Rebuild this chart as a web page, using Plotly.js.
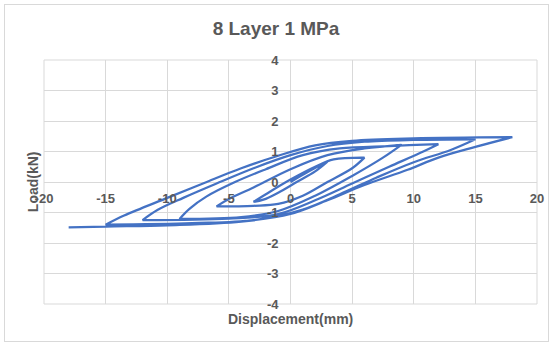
<!DOCTYPE html>
<html>
<head>
<meta charset="utf-8">
<script src="https://cdn.plot.ly/plotly-3.0.1.min.js"></script>
<style>
  html, body { margin: 0; padding: 0; background: #ffffff; }
  #wrap { position: relative; width: 552px; height: 344px; }
  #chart { position: absolute; left: 0; top: 0; width: 552px; height: 344px; }
  #frame { position: absolute; left: 4px; top: 4px; width: 543px; height: 336px;
           border: 1px solid #d9d9d9; pointer-events: none; }
</style>
</head>
<body>
<div id="wrap"><div id="chart"></div><div id="frame"></div></div>
<script>
// Displacement (mm) / Load (kN), one array per half cycle
const up1X = [0, 1.5, 3];
const up1Y = [0, 0.35, 0.67];
const dn1X = [3, 2, 0.5, -1, -2.2, -3];
const dn1Y = [0.67, 0.35, 0, -0.35, -0.58, -0.65];
const up2X = [-3, -2, 0, 2, 3.5, 6];
const up2Y = [-0.65, -0.4, 0.08, 0.5, 0.74, 0.8];
const dn2X = [6, 5, 3, 1, -1, -3, -6];
const dn2Y = [0.8, 0.45, 0, -0.45, -0.72, -0.78, -0.8];
const up3X = [-6, -5, -3, 0, 3, 6, 9];
const up3Y = [-0.8, -0.56, -0.18, 0.42, 0.88, 1.1, 1.22];
const dn3X = [9, 7.5, 5, 2, -1, -4, -9];
const dn3Y = [1.22, 0.8, 0.2, -0.45, -0.95, -1.15, -1.21];
const up4X = [-9, -8.2, -6.8, -4.5, -2, 1, 4, 8, 12];
const up4Y = [-1.21, -0.88, -0.47, 0, 0.42, 0.88, 1.1, 1.18, 1.24];
const dn4X = [12, 10.5, 8, 5, 2, -1, -5, -12];
const dn4Y = [1.24, 0.95, 0.5, -0.05, -0.6, -1.05, -1.2, -1.25];
const up5X = [-12, -10.8, -8.7, -6, -3, 0, 3, 6, 10, 15];
const up5Y = [-1.25, -0.92, -0.52, -0.05, 0.45, 0.88, 1.18, 1.32, 1.38, 1.40];
const dn5X = [15, 13, 10, 7, 4, 1, -3, -8, -15];
const dn5Y = [1.40, 1.05, 0.65, 0.15, -0.4, -0.9, -1.25, -1.35, -1.40];
const up6X = [-15, -13.5, -10, -7, -4, -1, 2, 5, 10, 18];
const up6Y = [-1.40, -1.1, -0.52, -0.03, 0.45, 0.86, 1.2, 1.35, 1.43, 1.47];
const dn6X = [18, 15, 12, 9.5, 6, 3, 0, -4, -10, -15, -18];
const dn6Y = [1.47, 1.15, 0.8, 0.4, -0.1, -0.6, -1.05, -1.3, -1.42, -1.46, -1.49];

const xTicks = [-20, -15, -10, -5, 0, 5, 10, 15, 20];
const yTicks = [-4, -3, -2, -1, 0, 1, 2, 3, 4];

const xs = [].concat(up1X, dn1X, up2X, dn2X, up3X, dn3X, up4X, dn4X, up5X, dn5X, up6X, dn6X);
const ys = [].concat(up1Y, dn1Y, up2Y, dn2Y, up3Y, dn3Y, up4Y, dn4Y, up5Y, dn5Y, up6Y, dn6Y);

const grey = '#d9d9d9';
const txt = '#595959';
const fam = 'Liberation Sans, Arial, sans-serif';

const trace = {
  x: xs, y: ys, type: 'scatter', mode: 'lines',
  line: { color: '#4472C4', width: 2.25, shape: 'spline', smoothing: 1 },
  hoverinfo: 'skip'
};

const layout = {
  width: 552, height: 344,
  margin: { l: 44, r: 15, t: 60, b: 40, pad: 0 },
  paper_bgcolor: 'rgba(0,0,0,0)', plot_bgcolor: '#ffffff',
  showlegend: false,
  title: { text: '8 Layer 1 MPa', x: 0.5, xanchor: 'center', y: 0.918, yanchor: 'middle',
           font: { family: fam, size: 19, color: txt, weight: 'bold' } },
  xaxis: {
    range: [-20, 20], tickvals: xTicks, ticktext: xTicks.map(String),
    showgrid: true, gridcolor: grey, gridwidth: 1,
    zeroline: true, zerolinecolor: grey, zerolinewidth: 1,
    showline: false, ticks: '', anchor: 'free', position: 0.5,
    ticklabelstandoff: 7,
    tickfont: { family: fam, size: 13, color: txt, weight: 'bold' }
  },
  yaxis: {
    range: [-4, 4], tickvals: yTicks, ticktext: yTicks.map(String),
    showgrid: true, gridcolor: grey, gridwidth: 1,
    zeroline: true, zerolinecolor: grey, zerolinewidth: 1,
    showline: false, ticks: '', anchor: 'free', position: 0.5,
    ticklabelstandoff: 12,
    tickfont: { family: fam, size: 13, color: txt, weight: 'bold' }
  },
  shapes: [
    { type: 'rect', xref: 'paper', yref: 'paper', x0: 0, x1: 1, y0: 0, y1: 1,
      line: { color: grey, width: 1 }, layer: 'below' }
  ],
  annotations: [
    { text: 'Displacement(mm)', xref: 'paper', yref: 'paper', x: 0.5, y: -0.062,
      xanchor: 'center', yanchor: 'middle', showarrow: false,
      font: { family: fam, size: 14, color: txt, weight: 'bold' } },
    { text: 'Load(kN)', xref: 'paper', yref: 'paper', x: -0.022, y: 0.5, textangle: -90,
      xanchor: 'center', yanchor: 'middle', showarrow: false,
      font: { family: fam, size: 14, color: txt, weight: 'bold' } }
  ]
};

Plotly.newPlot('chart', [trace], layout, { staticPlot: true, displayModeBar: false });
</script>
</body>
</html>
